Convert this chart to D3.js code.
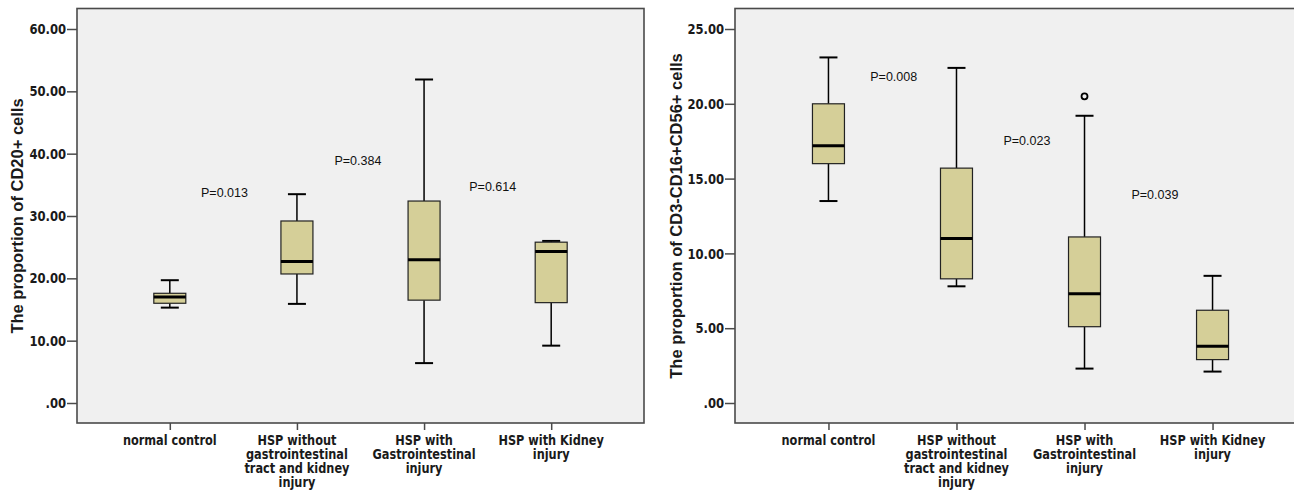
<!DOCTYPE html>
<html>
<head>
<meta charset="utf-8">
<script src="https://cdn.jsdelivr.net/npm/d3@7/dist/d3.min.js"></script>
<style>
  html, body { margin: 0; padding: 0; background: #ffffff; }
  svg { display: block; }
</style>
</head>
<body>
<svg id="chart" width="1294" height="492"></svg>
<script>
// ---- Data ----
const categories = [
  "normal control",
  "HSP without gastrointestinal tract and kidney injury",
  "HSP with Gastrointestinal injury",
  "HSP with Kidney injury"
];
const categoryLines = [
  ["normal control"],
  ["HSP without", "gastrointestinal", "tract and kidney", "injury"],
  ["HSP with", "Gastrointestinal", "injury"],
  ["HSP with Kidney", "injury"]
];

// Left chart: CD20+ cells
const cd20Title = "The proportion of CD20+ cells";
const cd20Ticks = [0, 10, 20, 30, 40, 50, 60];
const cd20Min    = [15.3, 15.9, 6.4, 9.2];
const cd20Q1     = [16.0, 20.7, 16.5, 16.1];
const cd20Median = [17.0, 22.7, 23.0, 24.3];
const cd20Q3     = [17.6, 29.2, 32.4, 25.8];
const cd20Max    = [19.7, 33.5, 51.9, 26.0];
const cd20Outliers = [[], [], [], []];
const cd20PLabels = ["P=0.013", "P=0.384", "P=0.614"];
const cd20PValueY = [33.7, 38.8, 34.7];
const cd20PPos    = [0.43, 1.48, 2.54];

// Right chart: CD3-CD16+CD56+ cells
const nkTitle = "The proportion of CD3-CD16+CD56+ cells";
const nkTicks = [0, 5, 10, 15, 20, 25];
const nkMin    = [13.5, 7.8, 2.3, 2.1];
const nkQ1     = [16.0, 8.3, 5.1, 2.9];
const nkMedian = [17.2, 11.0, 7.3, 3.8];
const nkQ3     = [20.0, 15.7, 11.1, 6.2];
const nkMax    = [23.1, 22.4, 19.2, 8.5];
const nkOutliers = [[], [], [20.5], []];
const nkPLabels = ["P=0.008", "P=0.023", "P=0.039"];
const nkPValueY = [21.8, 17.5, 13.9];
const nkPPos    = [0.51, 1.55, 2.55];

// ---- Drawing ----
const svg = d3.select("#chart");
const narrow = "'Liberation Sans Narrow', 'Arial Narrow', 'DejaVu Sans Condensed', sans-serif";
const sans = "'Liberation Sans', Arial, Helvetica, sans-serif";
const boxFill = "#d5cf98";
const frameColor = "#4a4a4a";
const squeeze = 0.9;

function drawPanel(cfg) {
  const g = svg.append("g");
  const fx0 = cfg.left, fx1 = cfg.right, fy0 = 8.5, fy1 = 423;

  const x = d3.scalePoint().domain(categories).range([fx0, fx1]).padding(0.73);
  const y = d3.scaleLinear().domain([0, cfg.ticks[cfg.ticks.length - 1]]).range([403, 29]);

  // plot background
  g.append("rect")
    .attr("x", fx0).attr("y", fy0)
    .attr("width", fx1 - fx0).attr("height", fy1 - fy0)
    .attr("fill", "#f0f0f0")
    .attr("stroke", frameColor).attr("stroke-width", 1.6);

  // y axis
  const yAxis = d3.axisLeft(y)
    .tickValues(cfg.ticks)
    .tickSize(10)
    .tickPadding(1)
    .tickFormat(v => d3.format(".2f")(v).replace(/^0\./, "."));
  const ya = g.append("g").attr("transform", `translate(${fx0},0)`).call(yAxis);
  ya.select(".domain").remove();
  ya.selectAll(".tick line").attr("stroke", frameColor).attr("stroke-width", 1.5);
  ya.selectAll(".tick text")
    .attr("fill", "#1a1a1a")
    .attr("transform", `translate(-10,0) scale(0.89,1) translate(10,0)`)
    .style("font-family", narrow)
    .style("font-weight", "bold")
    .style("font-size", "14.5px");

  // x axis
  const xAxis = d3.axisBottom(x).tickSize(7).tickFormat("");
  const xa = g.append("g").attr("transform", `translate(0,${fy1})`).call(xAxis);
  xa.select(".domain").remove();
  xa.selectAll(".tick line").attr("stroke", frameColor).attr("stroke-width", 1.5);

  // category labels (one text per line)
  const lab = g.append("g")
    .style("font-family", narrow)
    .style("font-weight", "bold")
    .style("font-size", "14px")
    .attr("fill", "#1a1a1a")
    .attr("text-anchor", "middle");
  categories.forEach((c, i) => {
    categoryLines[i].forEach((line, j) => {
      lab.append("text")
        .attr("transform", `translate(${x(c)},${445 + j * 14}) scale(${squeeze},1)`)
        .attr("x", 0).attr("y", 0)
        .text(line);
    });
  });

  // y title
  g.append("text")
    .attr("transform", `translate(${cfg.titleX},${216}) rotate(-90)`)
    .attr("text-anchor", "middle")
    .attr("dominant-baseline", "central")
    .style("font-family", sans)
    .style("font-weight", "bold")
    .style("font-size", "16.5px")
    .attr("fill", "#1a1a1a")
    .text(cfg.title);

  // boxes
  const boxW = 32, capW = 18;
  categories.forEach((c, i) => {
    const cx = x(c);
    const bg = g.append("g");
    // whiskers
    bg.append("line").attr("x1", cx).attr("x2", cx)
      .attr("y1", y(cfg.max[i])).attr("y2", y(cfg.q3[i]))
      .attr("stroke", "#000").attr("stroke-width", 1.5);
    bg.append("line").attr("x1", cx).attr("x2", cx)
      .attr("y1", y(cfg.q1[i])).attr("y2", y(cfg.min[i]))
      .attr("stroke", "#000").attr("stroke-width", 1.5);
    bg.append("line").attr("x1", cx - capW / 2).attr("x2", cx + capW / 2)
      .attr("y1", y(cfg.max[i])).attr("y2", y(cfg.max[i]))
      .attr("stroke", "#000").attr("stroke-width", 2);
    bg.append("line").attr("x1", cx - capW / 2).attr("x2", cx + capW / 2)
      .attr("y1", y(cfg.min[i])).attr("y2", y(cfg.min[i]))
      .attr("stroke", "#000").attr("stroke-width", 2);
    // box
    bg.append("rect")
      .attr("x", cx - boxW / 2).attr("width", boxW)
      .attr("y", y(cfg.q3[i])).attr("height", y(cfg.q1[i]) - y(cfg.q3[i]))
      .attr("fill", boxFill).attr("stroke", "#222").attr("stroke-width", 1.2);
    // median
    bg.append("line").attr("x1", cx - boxW / 2).attr("x2", cx + boxW / 2)
      .attr("y1", y(cfg.median[i])).attr("y2", y(cfg.median[i]))
      .attr("stroke", "#000").attr("stroke-width", 3);
    // outliers
    cfg.outliers[i].forEach(v => {
      bg.append("circle").attr("cx", cx).attr("cy", y(v)).attr("r", 3)
        .attr("fill", "none").attr("stroke", "#000").attr("stroke-width", 1.8);
    });
  });

  // p-value labels
  const step = x.step();
  cfg.pLabels.forEach((p, i) => {
    g.append("text")
      .attr("x", x(categories[0]) + cfg.pPos[i] * step)
      .attr("y", y(cfg.pY[i]))
      .attr("text-anchor", "middle")
      .attr("dominant-baseline", "central")
      .style("font-family", sans)
      .style("font-size", "12.5px")
      .attr("fill", "#111")
      .text(p);
  });
}

drawPanel({
  left: 77, right: 644, titleX: 17, title: cd20Title, ticks: cd20Ticks,
  min: cd20Min, q1: cd20Q1, median: cd20Median, q3: cd20Q3, max: cd20Max,
  outliers: cd20Outliers, pLabels: cd20PLabels, pY: cd20PValueY, pPos: cd20PPos
});
drawPanel({
  left: 735, right: 1306, titleX: 676, title: nkTitle, ticks: nkTicks,
  min: nkMin, q1: nkQ1, median: nkMedian, q3: nkQ3, max: nkMax,
  outliers: nkOutliers, pLabels: nkPLabels, pY: nkPValueY, pPos: nkPPos
});
</script>
</body>
</html>
